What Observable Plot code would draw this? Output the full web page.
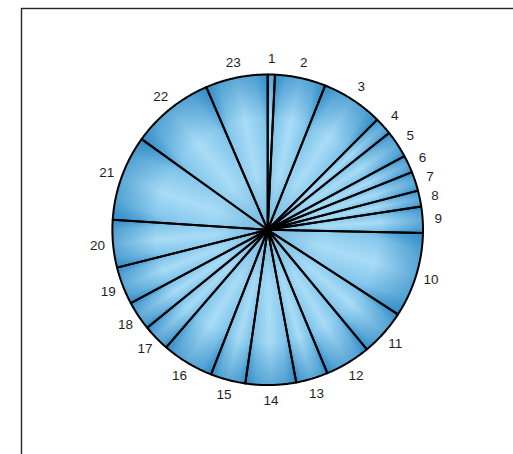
<!DOCTYPE html>
<html><head><meta charset="utf-8">
<script src="https://cdn.jsdelivr.net/npm/d3@7"></script>
<script src="https://cdn.jsdelivr.net/npm/@observablehq/plot@0.6"></script>
<style>
body{margin:0;background:#fff}
#wrap{width:513px;height:454px;overflow:hidden;position:relative;background:#fff}
</style>
</head><body><div id="wrap"></div>
<script>
// Slice labels and values (share of the full circle in degrees)
const labels = ["1","2","3","4","5","6","7","8","9","10","11","12","13","14","15","16","17","18","19","20","21","22","23"];
const values = [2.7, 19.0, 23.1, 6.6, 10.3, 6.5, 7.2, 6.0, 9.8, 31.8, 17.3, 17.1, 12.0, 18.9, 13.1, 19.4, 10.1, 10.9, 14.1, 17.8, 32.0, 31.0, 23.3];

const total = d3.sum(values);
let acc = 0;
const slices = values.map((v, i) => {
  const a0 = acc / total * 2 * Math.PI;
  acc += v;
  const a1 = acc / total * 2 * Math.PI;
  return {key: i, label: labels[i], a0, a1, mid: (a0 + a1) / 2};
});

// polygon outline of each slice (center -> arc -> center)
const rows = [];
for (const s of slices) {
  rows.push({key: s.key, x: 0, y: 0});
  const n = Math.max(2, Math.ceil((s.a1 - s.a0) / (Math.PI / 360)));
  for (let k = 0; k <= n; k++) {
    const a = s.a0 + (s.a1 - s.a0) * k / n;
    rows.push({key: s.key, x: Math.sin(a), y: Math.cos(a)});
  }
  rows.push({key: s.key, x: 0, y: 0});
}

const CX = 267.2, CY = 229.3, R = 155.3;

const chart = Plot.plot({
  width: 513,
  height: 454,
  marginLeft: 21,
  marginTop: 8,
  marginRight: -40,
  marginBottom: -40,
  style: {fontFamily: "'Liberation Sans', Arial, Helvetica, sans-serif", background: "white"},
  x: {domain: [-1, 1], range: [CX - R, CX + R], axis: null},
  y: {domain: [-1, 1], range: [CY + R, CY - R], axis: null},
  color: {type: "identity"},
  marks: [
    Plot.frame({stroke: "#262626", strokeWidth: 1.4}),
    Plot.line(rows, {x: "x", y: "y", z: "key", fill: d => `url(#slice${d.key})`, stroke: "none", curve: "linear"}),
    Plot.line(rows, {x: "x", y: "y", z: "key", fill: d => "url(#rimshade)", stroke: "none", curve: "linear"}),
    Plot.line(rows, {x: "x", y: "y", z: "key", fill: "none", stroke: "black", strokeWidth: 2, strokeLinejoin: "round", curve: "linear"}),
    Plot.text(slices, {x: d => 1.1 * Math.sin(d.mid), y: d => 1.1 * Math.cos(d.mid), text: "label", fontSize: 13.5, fill: "#1f1f1f", textAnchor: "middle", lineAnchor: "middle"})
  ]
});

// gradients placed with the chart's own scales
const sx = chart.scale("x"), sy = chart.scale("y");
const ns = "http://www.w3.org/2000/svg";
const defs = document.createElementNS(ns, "defs");
const dark = "#3a92cb", mid = "#84c7ec", light = "#a9dcf6";
for (const s of slices) {
  const g = document.createElementNS(ns, "linearGradient");
  g.setAttribute("id", `slice${s.key}`);
  g.setAttribute("gradientUnits", "userSpaceOnUse");
  g.setAttribute("x1", sx.apply(Math.sin(s.a0)));
  g.setAttribute("y1", sy.apply(Math.cos(s.a0)));
  g.setAttribute("x2", sx.apply(Math.sin(s.a1)));
  g.setAttribute("y2", sy.apply(Math.cos(s.a1)));
  [[0, dark], [0.22, mid], [0.5, light], [0.78, mid], [1, dark]].forEach(([o, c]) => {
    const st = document.createElementNS(ns, "stop");
    st.setAttribute("offset", o);
    st.setAttribute("stop-color", c);
    g.appendChild(st);
  });
  defs.appendChild(g);
}
const rg = document.createElementNS(ns, "radialGradient");
rg.setAttribute("id", "rimshade");
rg.setAttribute("gradientUnits", "userSpaceOnUse");
rg.setAttribute("cx", sx.apply(0));
rg.setAttribute("cy", sy.apply(0));
rg.setAttribute("r", sx.apply(1) - sx.apply(0));
[[0, "#2d86c2", 0.45], [0.35, "#2d86c2", 0], [0.72, "#2d86c2", 0], [1, "#2d86c2", 0.6]].forEach(([o, c, op]) => {
  const st = document.createElementNS(ns, "stop");
  st.setAttribute("offset", o);
  st.setAttribute("stop-color", c);
  st.setAttribute("stop-opacity", op);
  rg.appendChild(st);
});
defs.appendChild(rg);
chart.insertBefore(defs, chart.firstChild);

document.getElementById("wrap").appendChild(chart);
</script>
</body></html>
